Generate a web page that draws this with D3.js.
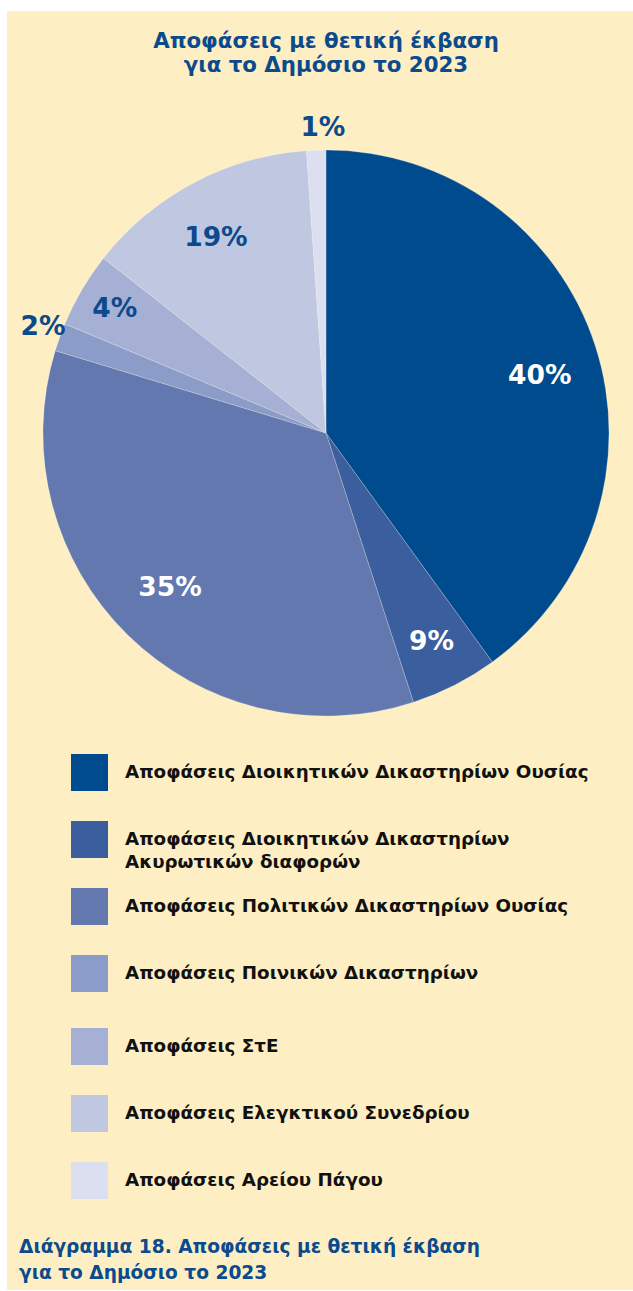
<!DOCTYPE html>
<html>
<head>
<meta charset="utf-8">
<script src="https://cdn.jsdelivr.net/npm/d3@7"></script>
<style>
  html, body { margin: 0; padding: 0; background: #ffffff; }
  svg { display: block; }
  text { font-family: "DejaVu Sans", "Noto Sans", sans-serif; }
</style>
</head>
<body>
<div id="chart"></div>
<script>
// categories (legend order = slice order, clockwise from 12 o'clock)
const categories = [
    ['Αποφάσεις Διοικητικών Δικαστηρίων Ουσίας'],
    ['Αποφάσεις Διοικητικών Δικαστηρίων', 'Ακυρωτικών διαφορών'],
    ['Αποφάσεις Πολιτικών Δικαστηρίων Ουσίας'],
    ['Αποφάσεις Ποινικών Δικαστηρίων'],
    ['Αποφάσεις ΣτΕ'],
    ['Αποφάσεις Ελεγκτικού Συνεδρίου'],
    ['Αποφάσεις Αρείου Πάγου']
];
// slice sizes as drawn in the picture
const values = [40, 5, 34.7, 1.6, 4.3, 13.3, 1.1];
// printed labels
const labels = ['40%', '9%', '35%', '2%', '4%', '19%', '1%'];

const colors = ['#004b8d', '#3a5e9e', '#6378ae', '#8b9cc8', '#a6b0d5', '#c0c7e1', '#dbdff0'];
const labelColors = ['#fff', '#fff', '#fff', '#0b4a8c', '#0b4a8c', '#0b4a8c', '#0b4a8c'];
// label placement: fraction of radius, angle nudge in degrees
const labelRadius = [0.783, 0.822, 0.772, 1.07, 0.869, 0.797, 1.085];
const labelNudge = [2.8, 0, 1.1, 1.1, 0.4, -1.3, 1.4];

const width = 633;
const height = 1291;
const blue = '#0b4a8c';

const svg = d3.select('#chart')
    .append('svg')
    .attr('width', width)
    .attr('height', height);

// beige panel
svg.append('rect')
    .attr('x', 7).attr('y', 11)
    .attr('width', width - 7).attr('height', height - 12)
    .attr('fill', '#fdefc3');

// title
const title = svg.append('text')
    .attr('text-anchor', 'middle')
    .attr('fill', blue)
    .style('font-size', '21.3px')
    .style('font-weight', 700);
title.append('tspan').attr('x', 326).attr('y', 48).text('Αποφάσεις με θετική έκβαση');
title.append('tspan').attr('x', 326).attr('y', 72).text('για το Δημόσιο το 2023');

// pie
const cx = 326, cy = 433, r = 283;
const pie = d3.pie().sort(null).value(d => d);
const arcs = pie(values);
const arc = d3.arc().innerRadius(0).outerRadius(r);

const g = svg.append('g').attr('transform', `translate(${cx},${cy})`);

g.selectAll('path')
    .data(arcs)
    .enter().append('path')
    .attr('d', arc)
    .attr('fill', (d, i) => colors[i])
    .attr('stroke', '#ffffff')
    .attr('stroke-opacity', 0.35)
    .attr('stroke-width', 0.6);

g.selectAll('text.lbl')
    .data(arcs)
    .enter().append('text')
    .attr('class', 'lbl')
    .attr('text-anchor', 'middle')
    .attr('dy', '0.36em')
    .attr('transform', (d, i) => {
        const a = (d.startAngle + d.endAngle) / 2 + labelNudge[i] * Math.PI / 180;
        const lr = labelRadius[i] * r;
        return `translate(${lr * Math.sin(a)},${-lr * Math.cos(a)})`;
    })
    .attr('fill', (d, i) => labelColors[i])
    .style('font-size', '26.5px')
    .style('font-weight', 700)
    .text((d, i) => labels[i]);

// legend
const legendTops = [754, 821, 888, 955, 1028, 1095, 1162];

const legend = svg.append('g');
const items = legend.selectAll('g')
    .data(categories)
    .enter().append('g')
    .attr('transform', (d, i) => `translate(71,${legendTops[i]})`);

items.append('rect')
    .attr('width', 37)
    .attr('height', 37)
    .attr('fill', (d, i) => colors[i]);

items.each(function (lines) {
    const t = d3.select(this).append('text')
        .attr('fill', '#111')
        .style('font-size', '18.3px')
        .style('font-weight', 700);
    lines.forEach((line, j) => {
        t.append('tspan')
            .attr('x', 54)
            .attr('y', 24 + j * 23)
            .text(line);
    });
});

// caption
const caption = svg.append('text')
    .attr('fill', blue)
    .style('font-size', '18.6px')
    .style('font-weight', 700);
caption.append('tspan').attr('x', 19).attr('y', 1253).text('Διάγραμμα 18. Αποφάσεις με θετική έκβαση');
caption.append('tspan').attr('x', 19).attr('y', 1279).text('για το Δημόσιο το 2023');
</script>
</body>
</html>
